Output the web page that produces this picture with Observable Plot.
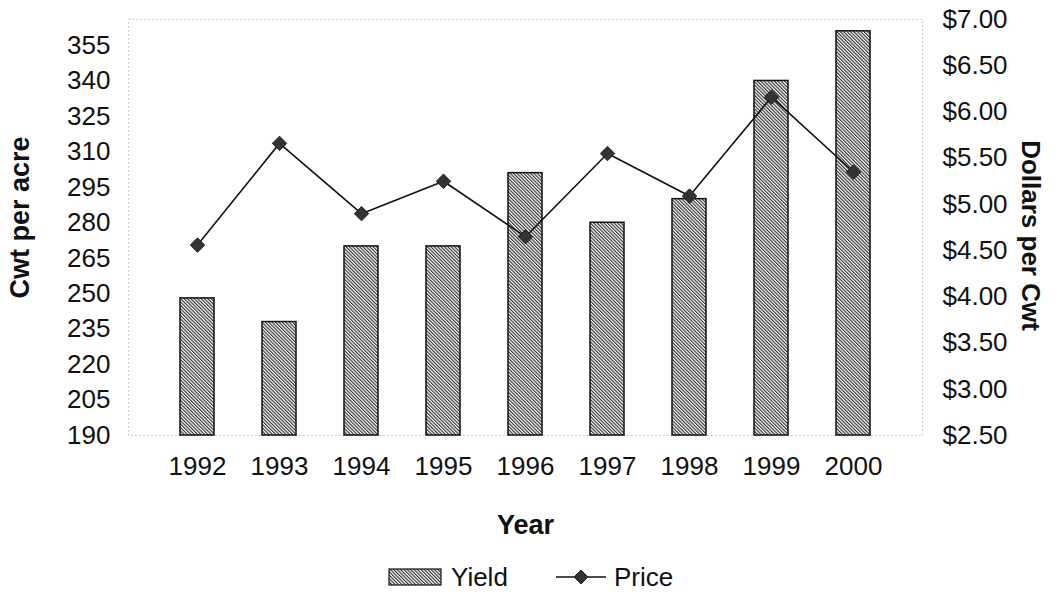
<!DOCTYPE html>
<html>
<head>
<meta charset="utf-8">
<script src="https://cdn.jsdelivr.net/npm/d3@7"></script>
<script src="https://cdn.jsdelivr.net/npm/@observablehq/plot@0.6"></script>
<style>
  html, body { margin: 0; padding: 0; background: #fff; }
  body { width: 1057px; height: 599px; overflow: hidden; font-family: "Liberation Sans", Arial, sans-serif; }
  #legend { position: relative; height: 44px; width: 1057px; font-family: "Liberation Sans", Arial, sans-serif; font-size: 26px; color: #111; }
  #legend .item { position: absolute; top: 0; height: 44px; display: flex; align-items: center; }
</style>
</head>
<body>
<div id="chart"></div>
<div id="legend"></div>
<script>
// ---- data ----
const years = ["1992", "1993", "1994", "1995", "1996", "1997", "1998", "1999", "2000"];
const yieldCwt = [248, 238, 270, 270, 301, 280, 290, 340, 361];
const price = [4.56, 5.66, 4.90, 5.25, 4.65, 5.55, 5.09, 6.16, 5.35];
const yieldTicks = [190, 205, 220, 235, 250, 265, 280, 295, 310, 325, 340, 355];
const priceTicks = [2.5, 3.0, 3.5, 4.0, 4.5, 5.0, 5.5, 6.0, 6.5, 7.0];

// axis ranges
const yMin = 190, yMax = 366;
const pMin = 2.5, pMax = 7.0;
const p2y = p => yMin + (p - pMin) / (pMax - pMin) * (yMax - yMin);
const y2p = y => pMin + (y - yMin) / (yMax - yMin) * (pMax - pMin);

const rows = years.map((yr, i) => ({year: yr, yield: yieldCwt[i], price: price[i]}));

const W = 1057, H = 555;
const font = "Liberation Sans, Arial, sans-serif";

const chart = Plot.plot({
  width: W,
  height: H,
  marginLeft: 128,
  marginRight: 135,
  marginTop: 19,
  marginBottom: 120,
  style: {fontFamily: font, fontSize: "26px", color: "#111", background: "#fff", overflow: "visible"},
  x: {domain: years, padding: 0.58, label: null},
  y: {domain: [yMin, yMax], label: null},
  marks: [
    Plot.frame({stroke: "#bbb", strokeDasharray: "1.5,2.5", strokeWidth: 1}),
    Plot.barY(rows, {x: "year", y1: yMin, y2: "yield", fill: "url(#hatch)", stroke: "#111", strokeWidth: 1.5}),
    Plot.lineY(rows, {x: "year", y: d => p2y(d.price), stroke: "#111", strokeWidth: 1.6}),
    Plot.dot(rows, {x: "year", y: d => p2y(d.price), symbol: "diamond2", r: 6.5, fill: "#333", stroke: "#222", strokeWidth: 1}),
    Plot.axisX({tickSize: 0, tickPadding: 21, fontSize: 26, label: null}),
    Plot.axisY({anchor: "left", ticks: yieldTicks, tickSize: 0, tickPadding: 18, fontSize: 26, label: null}),
    Plot.axisY({anchor: "right", ticks: priceTicks.map(p2y), tickFormat: v => "$" + y2p(v).toFixed(2), tickSize: 0, tickPadding: 20, fontSize: 26, label: null}),
    Plot.text(["Cwt per acre"], {frameAnchor: "left", textAnchor: "middle", dx: -108, dy: -10, rotate: -90, fontWeight: "bold", fontSize: 27, fill: "#111"}),
    Plot.text(["Dollars per Cwt"], {frameAnchor: "right", textAnchor: "middle", dx: 108, dy: 8, rotate: 90, fontWeight: "bold", fontSize: 26, fill: "#111"}),
    Plot.text(["Year"], {frameAnchor: "bottom", dy: 98, fontWeight: "bold", fontSize: 27, fill: "#111"})
  ]
});

// hatch pattern definition
const hatchDef = id =>
  '<pattern id="' + id + '" patternUnits="userSpaceOnUse" width="2.4" height="8" patternTransform="rotate(-45)">' +
  '<rect width="2.4" height="8" fill="#fff"/>' +
  '<line x1="0.6" y1="0" x2="0.6" y2="8" stroke="#111" stroke-width="1"/></pattern>';
d3.select(chart).insert("defs", ":first-child").html(hatchDef("hatch"));
document.getElementById("chart").appendChild(chart);

// legend
const legend = d3.select("#legend");
const it1 = legend.append("div").attr("class", "item").style("left", "388px");
const s1 = it1.append("svg").attr("width", 54).attr("height", 18).style("margin-right", "9px");
s1.append("defs").html(hatchDef("hatchL"));
s1.append("rect").attr("x", 1).attr("y", 1).attr("width", 52).attr("height", 16).attr("fill", "url(#hatchL)").attr("stroke", "#111").attr("stroke-width", 1.2);
it1.append("span").text("Yield");

const it2 = legend.append("div").attr("class", "item").style("left", "556px");
const s2 = it2.append("svg").attr("width", 50).attr("height", 18).style("margin-right", "8px");
s2.append("line").attr("x1", 0).attr("x2", 50).attr("y1", 9).attr("y2", 9).attr("stroke", "#111").attr("stroke-width", 1.6);
s2.append("path").attr("d", "M25,2 L32,9 L25,16 L18,9 Z").attr("fill", "#333").attr("stroke", "#222");
it2.append("span").text("Price");
</script>
</body>
</html>
